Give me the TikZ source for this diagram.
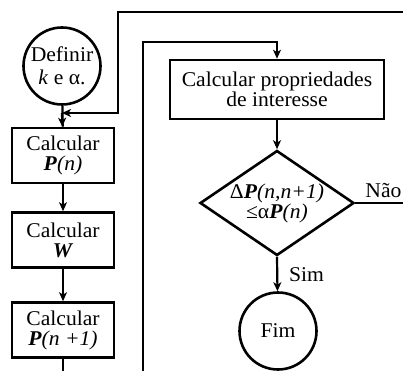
\documentclass[tikz,border=0pt]{standalone}
\usepackage{fontspec}
\setmainfont{Liberation Serif}[FakeStretch=1.03]
\usepackage{tikz}
\usetikzlibrary{
  arrows.meta,
  calc,
  positioning,
  shapes.geometric
}
\newcommand{\Pbi}{\textbf{\textit{P}}}

\begin{document}
\begin{tikzpicture}[x=1pt, y=-1pt, line width=2.2pt,
  font=\fontsize{21pt}{20pt}\selectfont,
  flow/.style={-{Stealth[length=9pt,width=8pt,inset=2.5pt]}},
  procbox/.style={draw, rectangle, line width=2.6pt, align=center, inner sep=0pt,
    minimum width=102pt, minimum height=55pt},
  termnode/.style={draw, circle, line width=2.6pt, align=center, inner sep=0pt,
    minimum size=77pt},
  testnode/.style={draw, diamond, line width=2.6pt, align=center, inner sep=0pt,
    aspect=1.47, minimum width=154pt, minimum height=105pt},
  branch/.style={inner sep=0pt, anchor=base west}]
  \useasboundingbox (0,0) rectangle (403,371);
  % Left column
  \node[termnode, font=\fontsize{21pt}{23pt}\selectfont] (def) at (62,66) {Definir\\\textit{k} e α.};
  \node[procbox] (pn) at (63,155.5) {Calcular\\\Pbi\textit{(n)}};
  \node[procbox] (w) at (63,240) {Calcular\\\textbf{\textit{W}}};
  \node[procbox] (pn1) at (63,330) {Calcular\\\Pbi\textit{(n +1)}};
  % Right column
  \node[procbox, minimum width=214pt, minimum height=59pt, font=\fontsize{21pt}{19pt}\selectfont]
    (props) at (277,89.5) {Calcular propriedades\\de interesse};
  \node[testnode] (test) at (277,203) {Δ\Pbi\textit{(n,n+1)}\\≤α\Pbi\textit{(n)}};
  \node[termnode] (fim) at (278,331) {Fim};
  % Free ends
  \coordinate (topin) at (403,12);
  \coordinate (merge) at (62,113);
  \coordinate (pnout) at (63,371);
  \coordinate (loopin) at (143,371);
  \coordinate (naoout) at (403,203);
  % Connectors
  \draw (def) -- (pn);
  \draw[flow] (topin) -- (118,12) -- (118,113) -- (merge);
  \draw[flow] (merge) -- (pn);
  \draw[flow] (pn) -- (w);
  \draw[flow] (w) -- (pn1);
  \draw (pn1) -- (pnout);
  \draw[flow] (loopin) |- ($(props.north)+(0,-17)$) -- (props.north);
  \draw[flow] (props) -- (test);
  \draw (test.east) -- (naoout);
  \draw[flow] (test.south) -- (fim);
  % Labels
  \node[branch] (nao) at ($(test.east)+(9,-6)$) {Não};
  \node[branch] (sim) at ($(test.south)+(11,25)$) {Sim};
\end{tikzpicture}
\end{document}
